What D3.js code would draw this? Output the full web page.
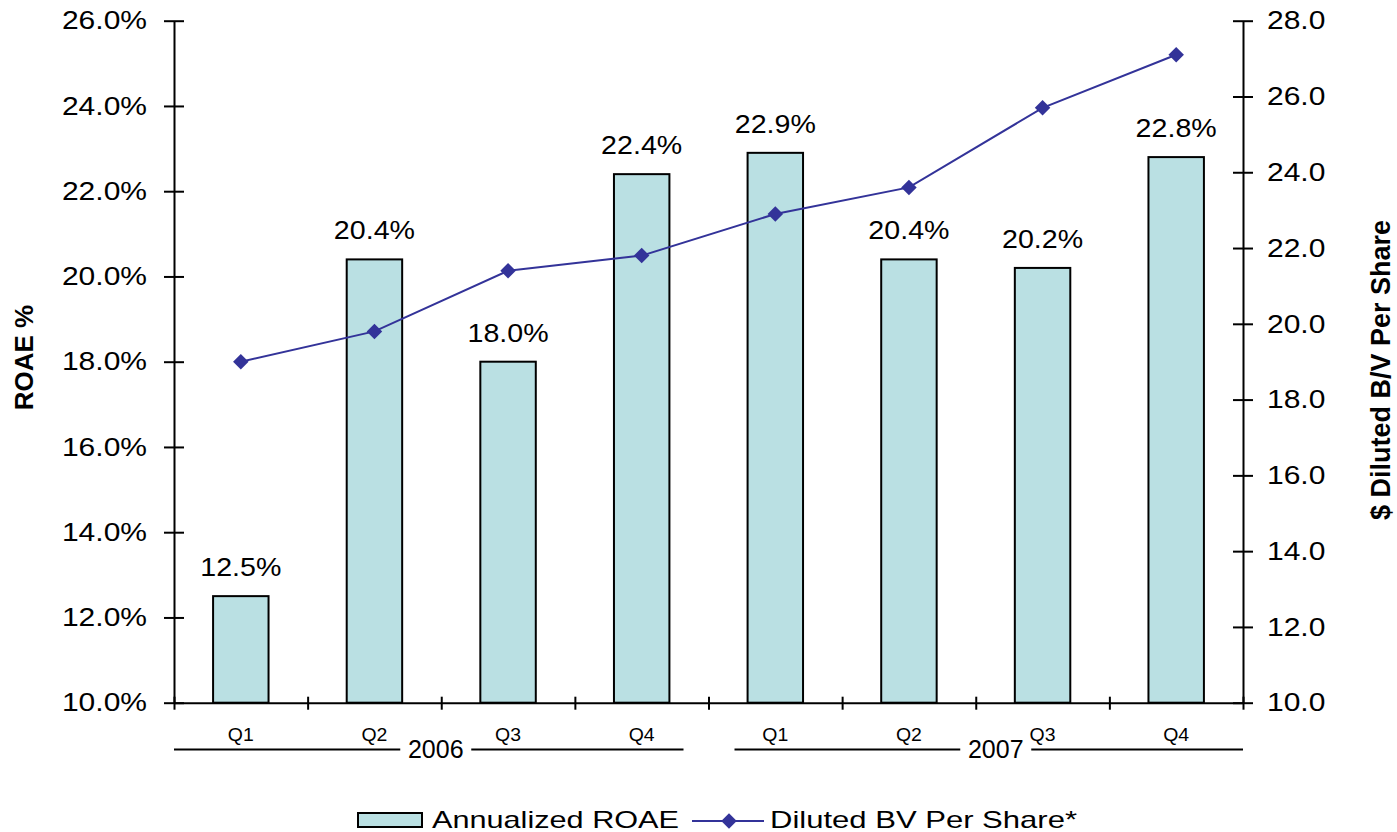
<!DOCTYPE html>
<html>
<head>
<meta charset="utf-8">
<script src="https://cdn.jsdelivr.net/npm/d3@7"></script>
<style>
  html, body { margin: 0; padding: 0; background: #ffffff; }
  svg { display: block; font-family: "Liberation Sans", Arial, Helvetica, sans-serif; }
</style>
</head>
<body>
<script>
// Quarterly categories, grouped by year
const quarters = ["Q1", "Q2", "Q3", "Q4", "Q1", "Q2", "Q3", "Q4"];
const yearLabels = ["2006", "2007"];
const quartersPerYear = 4;

// Annualized ROAE (%) per quarter
const roae = [12.5, 20.4, 18.0, 22.4, 22.9, 20.4, 20.2, 22.8];
// Diluted book value per share ($) per quarter
const bvPerShare = [19.0, 19.8, 21.4, 21.8, 22.9, 23.6, 25.7, 27.1];

// Axis ticks
const roaeTicks = [10, 12, 14, 16, 18, 20, 22, 24, 26];
const bvTicks = [10, 12, 14, 16, 18, 20, 22, 24, 26, 28];

const seriesNames = ["Annualized ROAE", "Diluted BV Per Share*"];
const axisTitles = ["ROAE %", "$ Diluted B/V Per Share"];

const W = 1397, H = 832;
const plot = { left: 174, right: 1243, top: 20.7, bottom: 702.7 };
const barFill = "#BAE0E3";
const lineColor = "#333399";
const barFrac = 0.415;

const svg = d3.select("body").append("svg")
  .attr("width", W).attr("height", H)
  .attr("viewBox", `0 0 ${W} ${H}`);

// widen a text element to k times its natural width
function stretch(sel, k) {
  sel.each(function () {
    const len = this.getComputedTextLength();
    d3.select(this).attr("textLength", len * k).attr("lengthAdjust", "spacingAndGlyphs");
  });
}

const slot = d3.scaleBand().domain(d3.range(quarters.length)).range([plot.left, plot.right]).padding(0);
const xEdge = d3.scaleLinear().domain([0, quarters.length]).range([plot.left, plot.right]);
const yL = d3.scaleLinear().domain([10, 26]).range([plot.bottom, plot.top]);
const yR = d3.scaleLinear().domain([10, 28]).range([plot.bottom, plot.top]);

const barW = slot.bandwidth() * barFrac;
const cx = i => slot(i) + slot.bandwidth() / 2;

// Bars
svg.append("g").selectAll("rect").data(roae).join("rect")
  .attr("x", (d, i) => cx(i) - barW / 2)
  .attr("y", d => yL(d))
  .attr("width", barW)
  .attr("height", d => yL(10) - yL(d))
  .attr("fill", barFill)
  .attr("stroke", "#000")
  .attr("stroke-width", 2);

// Bar value labels
svg.append("g").selectAll("text").data(roae).join("text")
  .attr("x", (d, i) => cx(i))
  .attr("y", d => yL(d) - 20)
  .attr("text-anchor", "middle")
  .attr("font-size", 26)
  .attr("fill", "#000")
  .text(d => d.toFixed(1) + "%")
  .call(stretch, 1.1);

// Left axis
const gL = svg.append("g").attr("transform", `translate(${plot.left},0)`)
  .call(d3.axisLeft(yL).tickValues(roaeTicks).tickFormat(d => d.toFixed(1) + "%").tickSizeOuter(0));
gL.select(".domain").attr("stroke", "#000").attr("stroke-width", 2);
gL.selectAll(".tick line").attr("x1", -10).attr("x2", 10).attr("stroke", "#000").attr("stroke-width", 2);
gL.selectAll(".tick text").attr("x", -27).attr("dy", "0.33em")
  .attr("font-size", 25).attr("font-family", null).attr("fill", "#000")
  .call(stretch, 1.2);

// Right axis
const gR = svg.append("g").attr("transform", `translate(${plot.right},0)`)
  .call(d3.axisRight(yR).tickValues(bvTicks).tickFormat(d => d.toFixed(1)).tickSizeOuter(0));
gR.select(".domain").attr("stroke", "#000").attr("stroke-width", 2);
gR.selectAll(".tick line").attr("x1", -10).attr("x2", 10).attr("stroke", "#000").attr("stroke-width", 2);
gR.selectAll(".tick text").attr("x", 24).attr("dy", "0.33em")
  .attr("font-size", 25).attr("font-family", null).attr("fill", "#000")
  .call(stretch, 1.2);

// Bottom axis with ticks at category boundaries
const gB = svg.append("g").attr("transform", `translate(0,${plot.bottom})`)
  .call(d3.axisBottom(xEdge).tickValues(d3.range(quarters.length + 1)).tickFormat("").tickSizeOuter(0));
gB.select(".domain").attr("stroke", "#000").attr("stroke-width", 2);
gB.selectAll(".tick line").attr("y1", -6).attr("y2", 7).attr("stroke", "#000").attr("stroke-width", 2);

// Quarter labels
svg.append("g").selectAll("text").data(quarters).join("text")
  .attr("x", (d, i) => cx(i))
  .attr("y", 741)
  .attr("text-anchor", "middle")
  .attr("font-size", 18)
  .attr("fill", "#000")
  .text(d => d)
  .call(stretch, 1.08);

// Year group labels with bracket lines
const insets = [[0, 25], [26, 0]];
const yearY = 749.5;
yearLabels.forEach((yl, k) => {
  const x0 = slot(k * quartersPerYear) + insets[k][0];
  const x1 = slot(k * quartersPerYear + quartersPerYear - 1) + slot.bandwidth() - insets[k][1];
  const mid = (x0 + x1) / 2 + 7;
  const half = 35.5;
  const g = svg.append("g");
  g.append("line").attr("x1", x0).attr("x2", mid - half).attr("y1", yearY).attr("y2", yearY)
    .attr("stroke", "#000").attr("stroke-width", 2);
  g.append("line").attr("x1", mid + half).attr("x2", x1).attr("y1", yearY).attr("y2", yearY)
    .attr("stroke", "#000").attr("stroke-width", 2);
  g.append("text").attr("x", mid).attr("y", 757.5).attr("text-anchor", "middle")
    .attr("font-size", 25).attr("fill", "#000").text(yl);
});

// Book value line with diamond markers
const line = d3.line().x((d, i) => cx(i)).y(d => yR(d));
svg.append("path").datum(bvPerShare)
  .attr("d", line)
  .attr("fill", "none")
  .attr("stroke", lineColor)
  .attr("stroke-width", 2);

const diamond = d3.symbol().type(d3.symbolSquare).size(120);
svg.append("g").selectAll("path").data(bvPerShare).join("path")
  .attr("d", diamond)
  .attr("transform", (d, i) => `translate(${cx(i)},${yR(d)}) rotate(45)`)
  .attr("fill", lineColor);

// Axis titles
svg.append("text")
  .attr("transform", "translate(33,357.5) rotate(-90)")
  .attr("text-anchor", "middle")
  .attr("font-size", 26).attr("font-weight", "bold").attr("fill", "#000")
  .text(axisTitles[0]);
svg.append("text")
  .attr("transform", "translate(1390,370) rotate(-90)")
  .attr("text-anchor", "middle")
  .attr("font-size", 27).attr("font-weight", "bold").attr("fill", "#000")
  .text(axisTitles[1]);

// Legend
const lg = svg.append("g");
lg.append("rect").attr("x", 358).attr("y", 813).attr("width", 64).attr("height", 14)
  .attr("fill", barFill).attr("stroke", "#000").attr("stroke-width", 2);
lg.append("text").attr("x", 432).attr("y", 827.5).attr("font-size", 24).attr("fill", "#000")
  .text(seriesNames[0])
  .attr("textLength", 247).attr("lengthAdjust", "spacingAndGlyphs");
lg.append("line").attr("x1", 692).attr("x2", 764).attr("y1", 821).attr("y2", 821)
  .attr("stroke", lineColor).attr("stroke-width", 2);
lg.append("path").attr("d", diamond).attr("transform", "translate(729,821) rotate(45)").attr("fill", lineColor);
lg.append("text").attr("x", 770).attr("y", 827.5).attr("font-size", 24).attr("fill", "#000")
  .text(seriesNames[1])
  .attr("textLength", 307).attr("lengthAdjust", "spacingAndGlyphs");
</script>
</body>
</html>
